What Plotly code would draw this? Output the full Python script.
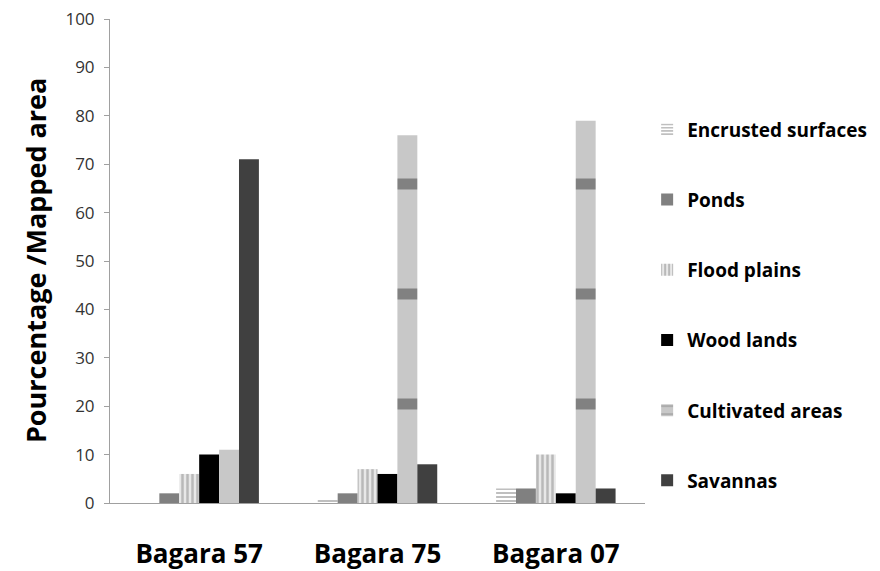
import plotly.graph_objects as go

categories = ["Bagara 57", "Bagara 75", "Bagara 07"]
series_names = ["Encrusted surfaces", "Ponds", "Flood plains", "Wood lands", "Cultivated areas", "Savannas"]
encrusted = [0, 1, 3]
ponds = [2, 2, 3]
flood = [6, 7, 10]
wood = [10, 6, 2]
cultivated = [11, 76, 79]
savannas = [71, 8, 3]
y_ticks = list(range(0, 101, 10))
y_title = "Pourcentage /Mapped area"

values = [encrusted, ponds, flood, wood, cultivated, savannas]
styles = [
    dict(color="#ffffff", pattern=dict(shape="-", fgcolor="#808080", bgcolor="#ffffff", size=4, solidity=0.5)),
    dict(color="#808080"),
    dict(color="#ffffff", pattern=dict(shape="|", fgcolor="#8a8a8a", bgcolor="#e8e8e8", size=5, solidity=0.5)),
    dict(color="#000000"),
    dict(color="#c8c8c8", pattern=dict(shape="-", fgcolor="#3a3a3a", bgcolor="#c8c8c8", size=110, solidity=0.1)),
    dict(color="#404040"),
]

fig = go.Figure()
for i, (name, vals, st) in enumerate(zip(series_names, values, styles)):
    fig.add_trace(go.Bar(
        x=categories, y=vals, name=name, marker=dict(line=dict(width=0), **st),
        legendgroup=f"g{i}",
    ))

fig.add_annotation(
    text=y_title, xref="paper", yref="paper", x=-0.140, y=0.5,
    xanchor="center", yanchor="middle", textangle=-90, showarrow=False,
    font=dict(size=27, color="#000000", family="Open Sans", weight="bold"),
)

fig.update_layout(
    width=880, height=571,
    paper_bgcolor="white", plot_bgcolor="white",
    margin=dict(l=102, r=243, t=11, b=76, autoexpand=False),
    barmode="group", bargap=0.33, bargroupgap=0,
    font=dict(family="Open Sans", color="#000000"),
    showlegend=True,
    legend=dict(x=1.004, y=0.811, xanchor="left", yanchor="top",
                font=dict(size=19, family="Open Sans", color="#000000", weight="bold"),
                tracegroupgap=42.5, itemwidth=30),
    yaxis=dict(range=[0, 100], tickvals=y_ticks, showgrid=False, zeroline=False,
               showline=True, linecolor="#a0a0a0", linewidth=1, automargin=False,
               ticks="outside", ticklen=5, tickcolor="#a0a0a0",
               ticklabelstandoff=6, ticklabeloverflow="allow",
               tickfont=dict(size=17, color="#333333", family="Open Sans")),
    xaxis=dict(showgrid=False, showline=True, linecolor="#a0a0a0", linewidth=1, automargin=False,
               ticks="", ticklabelstandoff=28,
               tickfont=dict(size=26, color="#000000", family="Open Sans", weight="bold")),
)

fig.write_html("out.html")
